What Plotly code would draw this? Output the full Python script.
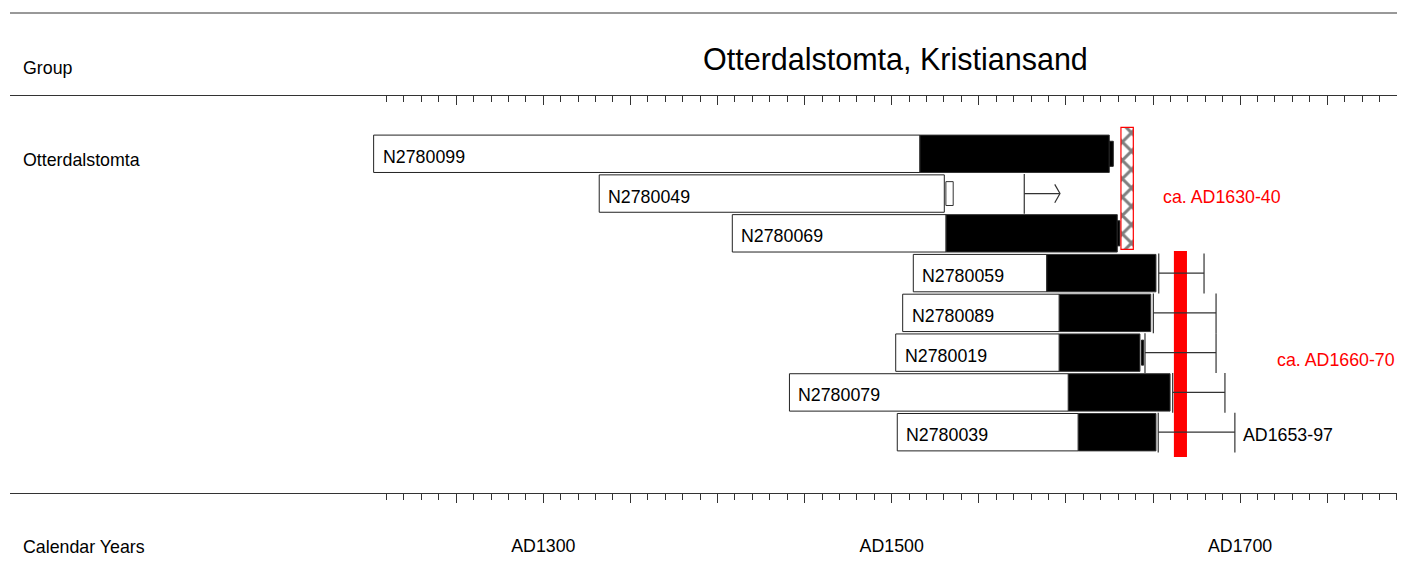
import plotly.graph_objects as go

# ---------------- data ----------------
samples = ["N2780099", "N2780049", "N2780069", "N2780059",
           "N2780089", "N2780019", "N2780079", "N2780039"]
first_ring = [1202.6, 1332.1, 1408.5, 1512.4, 1506.3, 1502.3, 1441.3, 1503.2]
heartwood_end = [1516.2, 1530.2, 1531.2, 1589.0, 1596.2, 1596.2, 1601.4, 1607.1]
sapwood_end = [1624.9, None, 1629.5, 1651.7, 1648.7, 1642.5, 1659.8, 1651.7]
extra_start = [1624.9, 1531.1, 1629.5, None, None, 1643.4, None, None]
extra_end = [1627.2, 1535.3, 1631.0, None, None, 1644.6, None, None]
extra_kind = ["bark", "unmeasured", "bark", None, None, "bark", None, None]
felling_from = [None, 1576.1, None, 1653.3, 1650.2, 1645.4, 1661.3, 1653.0]
felling_to = [None, 1596.6, None, 1679.3, 1686.2, 1686.2, 1691.3, 1697.0]
felling_open = [False, True, False, False, False, False, False, False]
felling_label = [None, None, None, None, None, None, None, "AD1653-97"]

phase_labels = ["ca. AD1630-40", "ca. AD1660-70"]
phase_from = [1631.6, 1662.0]
phase_to = [1638.7, 1669.5]

group_name = "Otterdalstomta"
title_text = "Otterdalstomta, Kristiansand"
major_ticks = list(range(1250, 1751, 50))
minor_ticks = [y for y in range(1210, 1791, 10) if y % 50 != 0]
labelled_years = [1300, 1500, 1700]

# ---------------- layout helpers ----------------
W, H = 1407, 569
FONT = "Liberation Sans, Arial, sans-serif"
FS = 17.8
TFONT = "Liberation Sans, Arial, sans-serif"
LINE = "#333333"


def px_x(p):
    return p / W


def px_y(p):
    return 1 - p / H


rows = list(range(len(samples)))
BAR_W = 0.94

fig = go.Figure()

# heartwood (white) bars
fig.add_trace(go.Bar(
    orientation="h", y=rows,
    x=[h - s for s, h in zip(first_ring, heartwood_end)],
    base=first_ring, width=BAR_W,
    marker=dict(color="white", line=dict(color="#222222", width=1)),
    showlegend=False, hoverinfo="skip"))

# sapwood (black) bars
sy, sx, sb = [], [], []
for i, (h, s) in enumerate(zip(heartwood_end, sapwood_end)):
    if s is not None:
        sy.append(i); sb.append(h); sx.append(s - h)
fig.add_trace(go.Bar(
    orientation="h", y=sy, x=sx, base=sb, width=BAR_W,
    marker=dict(color="black", line=dict(color=LINE, width=1)),
    showlegend=False, hoverinfo="skip"))

# small end pieces
for kind, col, lc, wd in [("bark", "black", "#222222", 0.63),
                          ("unmeasured", "white", "#333333", 0.60)]:
    ey, ex, eb = [], [], []
    for i, (a, b, k) in enumerate(zip(extra_start, extra_end, extra_kind)):
        if k == kind:
            ey.append(i); eb.append(a); ex.append(b - a)
    fig.add_trace(go.Bar(
        orientation="h", y=ey, x=ex, base=eb, width=wd,
        marker=dict(color=col, line=dict(color=lc, width=1)),
        showlegend=False, hoverinfo="skip"))

# felling date ranges
lx, ly = [], []
for i, (a, b, op) in enumerate(zip(felling_from, felling_to, felling_open)):
    if a is None:
        continue
    lx += [a, a, None, a, b, None]
    ly += [i - 0.49, i + 0.51, None, i, i, None]
    if op:
        lx += [b - 3.0, b, b - 3.0, None]
        ly += [i - 0.23, i, i + 0.23, None]
    else:
        lx += [b, b, None]
        ly += [i - 0.49, i + 0.51, None]
fig.add_trace(go.Scatter(x=lx, y=ly, mode="lines",
                         line=dict(color=LINE, width=1.2),
                         showlegend=False, hoverinfo="skip"))

# phase markers: hatched (first) and solid red (second)
fig.add_trace(go.Bar(
    orientation="h", y=[(-0.666 + 2.401) / 2], x=[phase_to[0] - phase_from[0]],
    base=[phase_from[0]], width=[2.401 + 0.666],
    marker=dict(color="white", line=dict(color="red", width=1.2),
                pattern=dict(shape="x", fgcolor="black", bgcolor="white",
                             size=13, solidity=0.4)),
    showlegend=False, hoverinfo="skip"))
fig.add_trace(go.Bar(
    orientation="h", y=[(2.444 + 7.624) / 2], x=[phase_to[1] - phase_from[1]],
    base=[phase_from[1]], width=[7.624 - 2.444],
    marker=dict(color="red", line=dict(color="red", width=0)),
    showlegend=False, hoverinfo="skip"))

# invisible trace for top axis
fig.add_trace(go.Scatter(x=[1500], y=[0], xaxis="x2", mode="markers",
                         marker=dict(opacity=0), showlegend=False,
                         hoverinfo="skip"))

annotations = []
for i, (s, x0) in enumerate(zip(samples, first_ring)):
    annotations.append(dict(x=x0, y=i, xref="x", yref="y", text=s,
                            showarrow=False, xanchor="left", yanchor="middle",
                            xshift=7, yshift=-3,
                            font=dict(family=FONT, size=FS, color="black")))
for i, (lab, b) in enumerate(zip(felling_label, felling_to)):
    if lab:
        annotations.append(dict(x=b, y=i, xref="x", yref="y", text=lab,
                                showarrow=False, xanchor="left",
                                yanchor="middle", xshift=6, yshift=-3,
                                font=dict(family=FONT, size=FS, color="black")))
annotations.append(dict(x=phase_to[0], y=1.0, xref="x", yref="y",
                        text=phase_labels[0], showarrow=False, xanchor="left",
                        yanchor="middle", xshift=28, yshift=-3,
                        font=dict(family=FONT, size=FS, color="red")))
annotations.append(dict(x=phase_to[1], y=5.1, xref="x", yref="y",
                        text=phase_labels[1], showarrow=False, xanchor="left",
                        yanchor="middle", xshift=88, yshift=-3,
                        font=dict(family=FONT, size=FS, color="red")))

# header / left column texts
annotations.append(dict(x=px_x(895), y=px_y(59), xref="paper", yref="paper",
                        text=title_text, showarrow=False, xanchor="center",
                        yanchor="middle",
                        font=dict(family=TFONT, size=30.5, color="black")))
for txt, py in [("Group", 68), (group_name, 160), ("Calendar Years", 547)]:
    annotations.append(dict(x=px_x(21), y=px_y(py), xref="paper",
                            yref="paper", text=txt, showarrow=False,
                            xanchor="left", yanchor="middle",
                            font=dict(family=FONT, size=FS, color="black")))

dom_x = [px_x(10), px_x(1397)]
xrange = [993.85, 1790.07]
ticktext = [f"AD{y}" if y in labelled_years else "" for y in major_ticks]

axis_common = dict(domain=dom_x, range=xrange, showgrid=False, zeroline=False,
                   showline=True, linecolor=LINE, linewidth=1,
                   tickmode="array", tickvals=major_ticks, ticklen=9,
                   tickcolor=LINE, tickwidth=1)

fig.update_layout(
    width=W, height=H,
    margin=dict(l=0, r=0, t=0, b=0),
    paper_bgcolor="white", plot_bgcolor="white",
    barmode="overlay",
    xaxis=dict(**axis_common, side="bottom", anchor="y", ticks="outside",
               ticktext=ticktext, ticklabelstandoff=28,
               tickfont=dict(family=FONT, size=FS, color="black"),
               minor=dict(tickmode="array", tickvals=minor_ticks, ticklen=6,
                          ticks="outside", tickcolor=LINE, showgrid=False)),
    xaxis2=dict(**axis_common, side="top", anchor="y", overlaying="x",
                matches="x", ticks="inside", showticklabels=False,
                minor=dict(tickmode="array", tickvals=minor_ticks, ticklen=6,
                           ticks="inside", tickcolor=LINE, showgrid=False)),
    yaxis=dict(domain=[px_y(493), px_y(96)], range=[8.529, -1.453],
               showgrid=False, zeroline=False, showline=False,
               showticklabels=False, ticks=""),
    shapes=[dict(type="line", xref="paper", yref="paper",
                 x0=dom_x[0], x1=dom_x[1], y0=px_y(13), y1=px_y(13),
                 line=dict(color=LINE, width=1))],
    annotations=annotations,
)

fig.write_html("out.html", config={"displayModeBar": False},
               post_script="document.body.style.margin='0';")
